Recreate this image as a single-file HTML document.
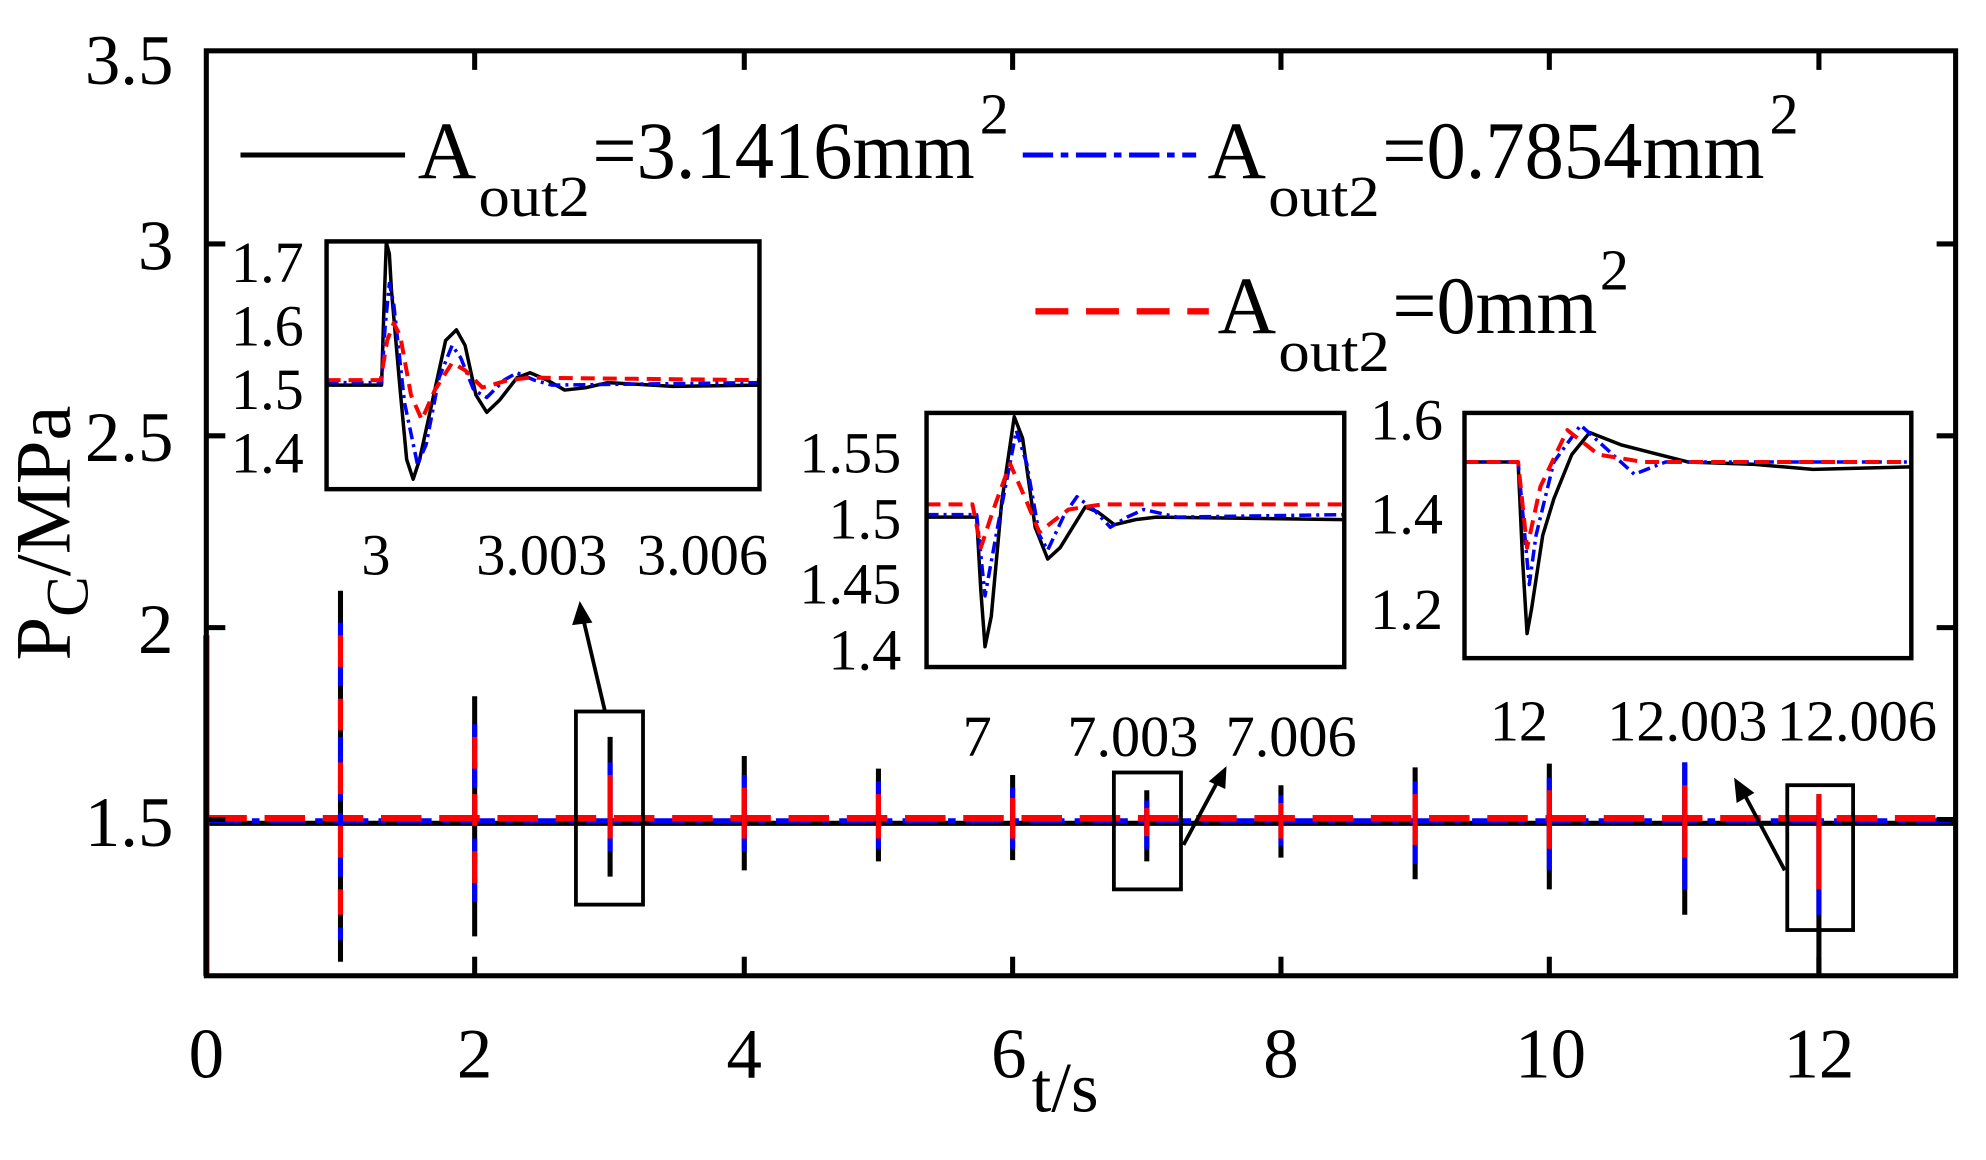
<!DOCTYPE html>
<html><head><meta charset="utf-8"><style>
html,body{margin:0;padding:0;background:#fff;}
svg{display:block;}
text{font-family:"Liberation Serif",serif;fill:#000;}
polyline{stroke-linejoin:round;}
</style></head><body>
<svg width="1986" height="1160" viewBox="0 0 1569 913" preserveAspectRatio="none" xmlns="http://www.w3.org/2000/svg">
<rect x="0" y="0" width="1569" height="913" fill="#fff"/>
<line x1="163" y1="648" x2="1545" y2="648" stroke="#000" stroke-width="4"/>
<line x1="163" y1="646" x2="1545" y2="646" stroke="#00f" stroke-width="4" stroke-dasharray="28,8,6,8"/>
<line x1="163" y1="644" x2="1545" y2="644" stroke="#f00" stroke-width="5" stroke-dasharray="32,14"/>
<g stroke-width="4">
<line x1="163" y1="500" x2="163" y2="768" stroke="#f00" stroke-width="5"/>
<line x1="269" y1="465" x2="269" y2="757" stroke="#000"/><line x1="269" y1="490" x2="269" y2="740" stroke="#00f" stroke-dasharray="20,10"/><line x1="269" y1="500" x2="269" y2="720" stroke="#f00" stroke-dasharray="25,25"/>
<line x1="375" y1="548" x2="375" y2="737" stroke="#000"/><line x1="375" y1="570" x2="375" y2="715" stroke="#00f" stroke-dasharray="20,10"/><line x1="375" y1="580" x2="375" y2="700" stroke="#f00" stroke-dasharray="25,20"/>
<line x1="482" y1="580" x2="482" y2="690" stroke="#000"/><line x1="482" y1="600" x2="482" y2="670" stroke="#00f"/><line x1="482" y1="610" x2="482" y2="660" stroke="#f00"/>
<line x1="588" y1="595" x2="588" y2="685" stroke="#000"/><line x1="588" y1="610" x2="588" y2="670" stroke="#00f"/><line x1="588" y1="620" x2="588" y2="660" stroke="#f00"/>
<line x1="694" y1="605" x2="694" y2="678" stroke="#000"/><line x1="694" y1="615" x2="694" y2="668" stroke="#00f"/><line x1="694" y1="625" x2="694" y2="660" stroke="#f00"/>
<line x1="800" y1="610" x2="800" y2="677" stroke="#000"/><line x1="800" y1="620" x2="800" y2="668" stroke="#00f"/><line x1="800" y1="628" x2="800" y2="660" stroke="#f00"/>
<line x1="906" y1="622" x2="906" y2="678" stroke="#000"/><line x1="906" y1="630" x2="906" y2="668" stroke="#00f"/><line x1="906" y1="636" x2="906" y2="658" stroke="#f00"/>
<line x1="1012" y1="618" x2="1012" y2="675" stroke="#000"/><line x1="1012" y1="626" x2="1012" y2="666" stroke="#00f"/><line x1="1012" y1="632" x2="1012" y2="660" stroke="#f00"/>
<line x1="1118" y1="604" x2="1118" y2="692" stroke="#000"/><line x1="1118" y1="615" x2="1118" y2="680" stroke="#00f"/><line x1="1118" y1="625" x2="1118" y2="665" stroke="#f00"/>
<line x1="1224" y1="601" x2="1224" y2="700" stroke="#000"/><line x1="1224" y1="612" x2="1224" y2="685" stroke="#00f"/><line x1="1224" y1="622" x2="1224" y2="668" stroke="#f00"/>
<line x1="1331" y1="600" x2="1331" y2="720" stroke="#000"/><line x1="1331" y1="600" x2="1331" y2="700" stroke="#00f"/><line x1="1331" y1="618" x2="1331" y2="675" stroke="#f00"/>
<line x1="1437" y1="625" x2="1437" y2="768" stroke="#000"/><line x1="1437" y1="630" x2="1437" y2="720" stroke="#00f"/><line x1="1437" y1="625" x2="1437" y2="700" stroke="#f00"/>
</g>
<rect x="163" y="40" width="1382" height="728" fill="none" stroke="#000" stroke-width="4"/>
<g stroke="#000" stroke-width="4">
<line x1="163" y1="192" x2="178" y2="192"/><line x1="163" y1="343" x2="178" y2="343"/><line x1="163" y1="494" x2="178" y2="494"/><line x1="163" y1="645" x2="178" y2="645"/>
<line x1="1545" y1="192" x2="1530" y2="192"/><line x1="1545" y1="343" x2="1530" y2="343"/><line x1="1545" y1="494" x2="1530" y2="494"/><line x1="1545" y1="645" x2="1530" y2="645"/>
<line x1="375" y1="768" x2="375" y2="753"/><line x1="588" y1="768" x2="588" y2="753"/><line x1="800" y1="768" x2="800" y2="753"/><line x1="1012" y1="768" x2="1012" y2="753"/><line x1="1224" y1="768" x2="1224" y2="753"/><line x1="1437" y1="768" x2="1437" y2="753"/>
<line x1="375" y1="40" x2="375" y2="55"/><line x1="588" y1="40" x2="588" y2="55"/><line x1="800" y1="40" x2="800" y2="55"/><line x1="1012" y1="40" x2="1012" y2="55"/><line x1="1224" y1="40" x2="1224" y2="55"/><line x1="1437" y1="40" x2="1437" y2="55"/>
</g>
<g font-size="56" text-anchor="end">
<text x="137" y="66">3.5</text><text x="137" y="212">3</text><text x="137" y="363">2.5</text><text x="137" y="514">2</text><text x="137" y="666">1.5</text>
</g>
<g font-size="56" text-anchor="middle">
<text x="163" y="848">0</text><text x="375" y="848">2</text><text x="588" y="848">4</text><text x="797" y="848">6</text><text x="1012" y="848">8</text><text x="1225" y="848">10</text><text x="1437" y="848">12</text>
</g>
<text x="815" y="875" font-size="56">t/s</text>
<text transform="translate(55,520) rotate(-90)" font-size="62">P<tspan font-size="48" dy="14">C</tspan><tspan dy="-14">/MPa</tspan></text>
<g fill="none" stroke="#000" stroke-width="3">
<rect x="455" y="560" width="53" height="152"/><rect x="880" y="608" width="53" height="92"/><rect x="1412" y="618" width="52" height="114"/>
<line x1="478" y1="560" x2="461" y2="488"/><line x1="935" y1="665" x2="962" y2="615"/><line x1="1410" y1="685" x2="1378" y2="625"/>
</g>
<g fill="#000">
<polygon points="458,473 452,492 468,490"/><polygon points="969,603 955,615 968,621"/><polygon points="1370,612 1372,632 1386,624"/>
</g>
<line x1="190" y1="122" x2="320" y2="122" stroke="#000" stroke-width="4"/>
<text x="330" y="140" font-size="64">A</text><text x="378" y="170" font-size="46" textLength="88" lengthAdjust="spacingAndGlyphs">out2</text><text x="468" y="140" font-size="64" textLength="302" lengthAdjust="spacingAndGlyphs">=3.1416mm</text><text x="774" y="105" font-size="46">2</text>
<line x1="808" y1="122" x2="945" y2="122" stroke="#00f" stroke-width="4" stroke-dasharray="24,6,6,6"/>
<text x="954" y="140" font-size="64">A</text><text x="1002" y="170" font-size="46" textLength="88" lengthAdjust="spacingAndGlyphs">out2</text><text x="1092" y="140" font-size="64" textLength="302" lengthAdjust="spacingAndGlyphs">=0.7854mm</text><text x="1398" y="105" font-size="46">2</text>
<line x1="818" y1="245" x2="955" y2="245" stroke="#f00" stroke-width="5" stroke-dasharray="26,14"/>
<text x="962" y="262" font-size="64">A</text><text x="1010" y="292" font-size="46" textLength="88" lengthAdjust="spacingAndGlyphs">out2</text><text x="1100" y="262" font-size="64" textLength="162" lengthAdjust="spacingAndGlyphs">=0mm</text><text x="1264" y="228" font-size="46">2</text>
<rect x="258" y="190" width="342" height="195" fill="#fff"/>
<g transform="translate(258,190) scale(342,195)" fill="none">
<polyline vector-effect="non-scaling-stroke" stroke="#000" stroke-width="3.5" points="0,.58 .127,.58 .132,.3 .138,.004 .145,.05 .15,.2 .17,.6 .185,.88 .2,.96 .215,.88 .25,.6 .275,.4 .3,.357 .32,.42 .345,.62 .37,.69 .4,.64 .44,.55 .47,.53 .51,.56 .55,.6 .6,.59 .65,.57 .8,.585 1,.58"/>
<polyline vector-effect="non-scaling-stroke" stroke="#00f" stroke-width="3.5" stroke-dasharray="12,5,3,5" points="0,.57 .127,.57 .135,.35 .145,.17 .155,.25 .18,.65 .21,.9 .23,.82 .26,.55 .29,.42 .31,.47 .34,.6 .37,.63 .41,.56 .44,.53 .48,.56 .52,.58 1,.57"/>
<polyline vector-effect="non-scaling-stroke" stroke="#f00" stroke-width="4" stroke-dasharray="14,8" points="0,.56 .125,.56 .14,.4 .155,.33 .17,.38 .195,.62 .22,.72 .25,.6 .29,.49 .32,.52 .36,.59 .42,.56 .47,.55 1,.56"/>
</g>
<rect x="258" y="190" width="342" height="195" fill="none" stroke="#000" stroke-width="3.5"/>
<g font-size="46" text-anchor="end"><text x="240" y="222">1.7</text><text x="240" y="272">1.6</text><text x="240" y="322">1.5</text><text x="240" y="372">1.4</text></g>
<g font-size="46" text-anchor="middle"><text x="297" y="452">3</text><text x="428" y="452">3.003</text><text x="555" y="452">3.006</text></g>
<rect x="732" y="325" width="330" height="200" fill="#fff"/>
<g transform="translate(732,325) scale(330,200)" fill="none">
<polyline vector-effect="non-scaling-stroke" stroke="#000" stroke-width="3.5" points="0,.41 .12,.41 .13,.7 .14,.92 .155,.8 .18,.35 .21,.015 .23,.1 .26,.45 .29,.575 .32,.53 .38,.37 .41,.39 .45,.44 .5,.42 .55,.41 1,.42"/>
<polyline vector-effect="non-scaling-stroke" stroke="#00f" stroke-width="3.5" stroke-dasharray="12,5,3,5" points="0,.4 .12,.4 .14,.72 .17,.45 .215,.07 .24,.2 .27,.48 .29,.54 .33,.4 .36,.33 .4,.38 .44,.45 .48,.41 .52,.38 .6,.41 1,.4"/>
<polyline vector-effect="non-scaling-stroke" stroke="#f00" stroke-width="4" stroke-dasharray="14,8" points="0,.36 .11,.36 .13,.53 .16,.38 .2,.2 .24,.35 .27,.47 .3,.43 .34,.38 .42,.36 1,.36"/>
</g>
<rect x="732" y="325" width="330" height="200" fill="none" stroke="#000" stroke-width="3.5"/>
<g font-size="46" text-anchor="end"><text x="712" y="372">1.55</text><text x="712" y="424">1.5</text><text x="712" y="475">1.45</text><text x="712" y="527">1.4</text></g>
<g font-size="46" text-anchor="middle"><text x="772" y="595">7</text><text x="895" y="595">7.003</text><text x="1020" y="595">7.006</text></g>
<rect x="1157" y="325" width="353" height="193" fill="#fff"/>
<g transform="translate(1157,325) scale(353,193)" fill="none">
<polyline vector-effect="non-scaling-stroke" stroke="#000" stroke-width="3.5" points="0,.2 .12,.2 .13,.6 .14,.9 .15,.8 .175,.5 .2,.35 .24,.17 .28,.08 .35,.13 .5,.2 .65,.21 .78,.23 1,.22"/>
<polyline vector-effect="non-scaling-stroke" stroke="#00f" stroke-width="3.5" stroke-dasharray="12,5,3,5" points="0,.2 .12,.2 .135,.5 .145,.7 .16,.5 .2,.2 .26,.05 .32,.15 .38,.25 .45,.2 1,.2"/>
<polyline vector-effect="non-scaling-stroke" stroke="#f00" stroke-width="4" stroke-dasharray="14,8" points="0,.2 .12,.2 .14,.55 .17,.3 .23,.07 .3,.17 .4,.2 1,.2"/>
</g>
<rect x="1157" y="325" width="353" height="193" fill="none" stroke="#000" stroke-width="3.5"/>
<g font-size="46" text-anchor="end"><text x="1140" y="346">1.6</text><text x="1140" y="420">1.4</text><text x="1140" y="495">1.2</text></g>
<g font-size="46" text-anchor="middle"><text x="1200" y="583">12</text><text x="1333" y="583">12.003</text><text x="1467" y="583">12.006</text></g>
</svg>
</body></html>
